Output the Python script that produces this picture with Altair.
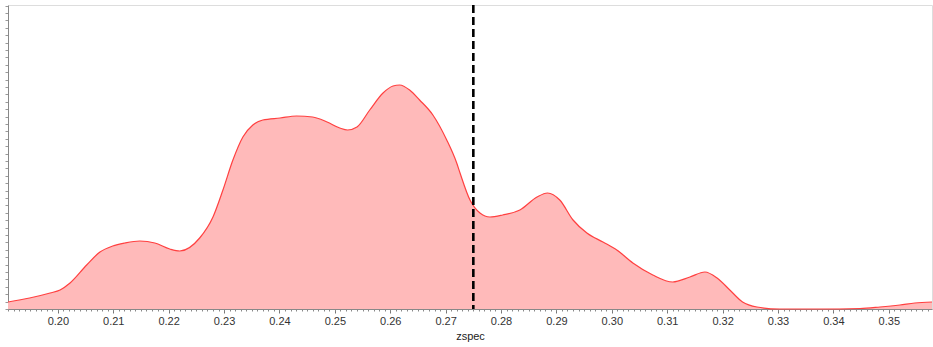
import altair as alt
import pandas as pd

# zspec values and density (arbitrary units)
zspec = [0.1910, 0.1949, 0.1986, 0.2004, 0.2022, 0.2052, 0.2076, 0.2099, 0.2121,
         0.2148, 0.2175, 0.2202, 0.2220, 0.2256, 0.2280, 0.2298, 0.2316, 0.2334,
         0.2352, 0.2370, 0.2401, 0.2431, 0.2460, 0.2486, 0.2509, 0.2523, 0.2540,
         0.2563, 0.2587, 0.2605, 0.2617, 0.2635, 0.2653, 0.2677, 0.2702, 0.2720,
         0.2726, 0.2744, 0.2762, 0.2780, 0.2803, 0.2834, 0.2865, 0.2884, 0.2906,
         0.2930, 0.2955, 0.2984, 0.3009, 0.3038, 0.3074, 0.3110, 0.3141, 0.3168,
         0.3190, 0.3213, 0.3236, 0.3262, 0.3303, 0.3375, 0.3448, 0.3484, 0.3520,
         0.3547, 0.3578]
density = [7, 11, 16, 19, 26, 44, 57, 63, 66,
           68, 66, 60, 58, 71, 92, 119, 149, 172,
           184, 189, 191, 193, 192, 187, 181, 179, 182,
           199, 216, 223, 224, 219, 209, 194, 169, 146,
           136, 109, 96, 92, 94, 99, 112, 116, 109,
           89, 76, 67, 59, 46, 34, 27, 32, 37,
           31, 19, 7, 2, 0, 0, 0.5, 2, 4,
           6, 7]
cut_value = [0.275]

x_major = [0.20, 0.21, 0.22, 0.23, 0.24, 0.25, 0.26, 0.27, 0.28, 0.29,
           0.30, 0.31, 0.32, 0.33, 0.34, 0.35]
x_minor = [round(0.191 + i * 0.001, 3) for i in range(167)]
y_ticks = [round(i * 7.4, 2) for i in range(42)]

X_DOMAIN = [0.191, 0.3578]
Y_DOMAIN = [0, 304]

df = pd.DataFrame({"zspec": zspec, "density": density})
df_line = pd.DataFrame({"zspec": cut_value})

x_scale = alt.Scale(domain=X_DOMAIN, nice=False, zero=False)

x_axis = alt.Axis(
    values=x_major,
    format=".2f",
    orient="bottom",
    labelOverlap=False,
    labelBound=False,
    labelFlush=False,
    tickSize=4,
    tickColor="#777",
    domainColor="#888",
    grid=False,
    labelFontSize=11,
    labelColor="#333",
    labelFont="Liberation Sans",
    labelPadding=2,
    title="zspec",
    titleFontSize=11,
    titleFontWeight="normal",
    titleColor="#222",
    titleFont="Liberation Sans",
    titlePadding=4,
)

x_minor_axis = alt.Axis(
    values=x_minor,
    orient="bottom",
    labels=False,
    domain=False,
    grid=False,
    tickSize=2,
    tickColor="#888",
    title=None,
)

y_axis = alt.Axis(
    values=y_ticks,
    labels=False,
    title=None,
    grid=False,
    tickSize=3,
    tickColor="#999",
    domainColor="#888",
)

area = alt.Chart(df).mark_area(
    interpolate="monotone",
    color="#ffbaba",
    opacity=1,
    line={"color": "#ff4040", "strokeWidth": 1.2},
).encode(
    x=alt.X("zspec:Q", scale=x_scale, axis=x_axis),
    y=alt.Y("density:Q", scale=alt.Scale(domain=Y_DOMAIN, nice=False), axis=y_axis),
)

rule = alt.Chart(df_line).mark_rule(
    color="black", strokeWidth=2.6, strokeDash=[8, 4]
).encode(x=alt.X("zspec:Q", scale=x_scale, axis=x_minor_axis))

chart = (area + rule).resolve_axis(x="independent").properties(
    width=924,
    height=304,
    autosize=alt.AutoSizeParams(type="none"),
    padding={"left": 8, "top": 5, "right": 1, "bottom": 38},
).configure_view(
    stroke="#888", strokeWidth=1.5
).configure(background="white")

chart.save("out.html", embed_options={"renderer": "svg", "actions": False})
